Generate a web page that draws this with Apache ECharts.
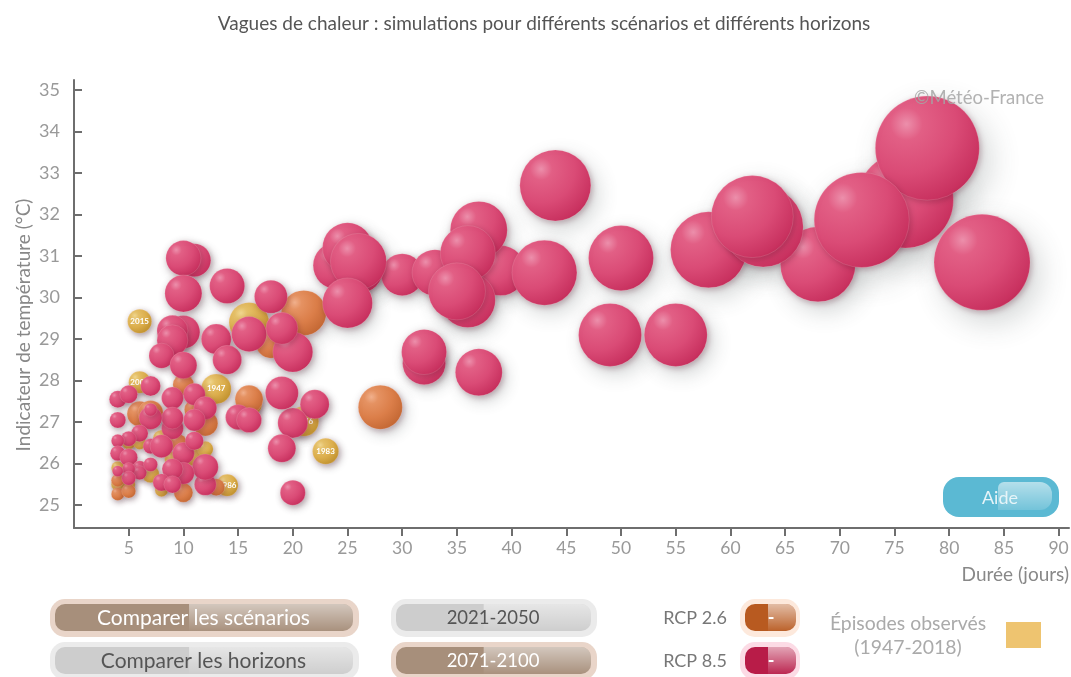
<!DOCTYPE html>
<html>
<head>
<meta charset="utf-8">
<title>Vagues de chaleur</title>
<script src="https://cdn.jsdelivr.net/npm/echarts@6/dist/echarts.min.js"></script>
<style>
  html, body { margin: 0; padding: 0; background: #fff; overflow: hidden; }
  #chartmain { width: 1071px; height: 677px; }
</style>
</head>
<body>
<div id="chartmain"></div>
<script>
var xTicks = [5, 10, 15, 20, 25, 30, 35, 40, 45, 50, 55, 60, 65, 70, 75, 80, 85, 90];
var yTicks = [25, 26, 27, 28, 29, 30, 31, 32, 33, 34, 35];

// [durée en jours, indicateur en °C, sévérité]
var observes = [
  [6, 29.43, 5.8], [16, 29.4, 16], [13, 27.8, 9], [6, 27.96, 4.8], [23, 26.3, 6.8],
  [21, 27.02, 9], [16, 27.45, 6.8], [14, 25.48, 4.8], [4, 25.9, 1.7], [5, 26.5, 1.7],
  [6, 26.5, 1.7], [7, 25.75, 3], [8, 26.6, 3], [8, 25.36, 1.7], [11, 26.15, 3],
  [9, 26.1, 2.5], [5, 25.5, 1.7], [4, 25.5, 1.7], [12, 26.35, 2.5], [10, 25.4, 1.4]
];
var annees = ['2015', '2003', '1947', '2006', '1983', '1976', '', '1986', '', '', '', '', '', '', '', '', '', '', '', ''];

var rcp26 = [
  [21, 29.63, 20.3], [18, 28.9, 9], [28, 27.36, 19.4], [16, 27.55, 7.8], [13, 25.43, 2.9],
  [10, 25.3, 3.6], [10, 27.9, 4.4], [12, 26.97, 6.3], [6, 27.2, 6.3], [7, 27.22, 6.3],
  [11, 27.3, 4], [9.5, 26.5, 3.2], [4, 25.27, 1.7], [5, 25.34, 2], [4, 25.6, 1.7]
];

var rcp85 = [
  [76, 32.35, 92.2], [78, 33.6, 108.2], [68, 30.8, 56.3], [72, 31.87, 90.3], [83, 30.85, 92.2],
  [58, 31.15, 57.8], [63, 31.7, 64], [62, 31.95, 67.2], [50, 30.95, 42.3], [49, 29.1, 39.7],
  [55, 29.1, 39.7], [44, 32.7, 50.4], [39, 30.65, 25], [37, 31.63, 32.5], [36, 29.94, 30.3],
  [30, 30.55, 17.6], [33, 30.6, 21.2], [36, 31.07, 30.3], [35, 30.15, 32.5], [43, 30.6, 42.3],
  [26, 30.7, 25], [24, 30.77, 22], [25, 31.2, 25], [26, 30.87, 31.4], [25, 29.87, 25],
  [32, 28.42, 18.5], [32, 28.69, 20.3], [37, 28.2, 22], [10, 29.17, 10.9], [9, 29.2, 9.6],
  [9, 28.97, 9.6], [11, 30.9, 10.9], [10, 30.95, 12.3], [10, 30.1, 13.7], [14, 30.28, 12.3],
  [18, 30.02, 10.9], [8, 28.6, 6.3], [10, 28.37, 7.3], [13, 29, 9], [14, 28.5, 8.4],
  [20, 28.69, 16], [16, 29.12, 12.3], [19, 29.26, 10.2], [22, 27.43, 8.4], [20, 26.98, 9],
  [19, 27.7, 10.9], [19, 26.37, 7.8], [20, 25.3, 6.3], [15, 27.12, 6.3], [16, 27.05, 6.3],
  [12, 25.5, 4.8], [12, 25.92, 6.8], [4, 27.55, 2.9], [5, 27.67, 3.2], [7, 27.87, 4],
  [4, 27.05, 2.6], [9, 27.58, 4.8], [11, 27.67, 4.8], [12, 27.34, 5.3], [9, 26.85, 4.8],
  [9, 27.1, 4.8], [11, 27.05, 4.8], [7, 27.1, 5.3], [7, 27.3, 1.7], [6, 26.73, 2.9],
  [5, 26.6, 2.3], [4, 26.55, 1.7], [4, 26.25, 2.3], [5, 26.15, 3.2], [7, 26.42, 2.3],
  [8, 26.42, 5.3], [10, 26.25, 4.8], [11, 26.55, 3.4], [10, 25.77, 4.8], [9, 25.87, 4.4],
  [8, 25.55, 3], [9, 25.5, 3], [6, 25.9, 2], [6, 25.78, 2], [7, 25.98, 2],
  [5, 25.87, 1.7], [5, 25.65, 2], [4, 25.82, 1.2]
];

var boutons = [
  { texte: 'Comparer les scénarios', actif: true, taille: 21 },
  { texte: 'Comparer les horizons', actif: false, taille: 21 },
  { texte: '2021-2050', actif: false, taille: 18.5 },
  { texte: '2071-2100', actif: true, taille: 18.5 }
];

var police = 'Lato, "Open Sans", sans-serif';

function diametre(severite) {
  return 10 * Math.sqrt(severite);
}

function sphere(c0, c1, c2, c3, c4) {
  return {
    type: 'radial', x: 0.3, y: 0.27, r: 0.86,
    colorStops: [
      { offset: 0, color: c0 },
      { offset: 0.18, color: c1 },
      { offset: 0.55, color: c2 },
      { offset: 0.88, color: c3 },
      { offset: 1, color: c4 }
    ]
  };
}

function serie(nom, points, couleur, rang, etiquettes) {
  return {
    name: nom,
    type: 'scatter',
    z: rang,
    symbolSize: function (val) { return diametre(val[2]); },
    itemStyle: {
      color: couleur,
      opacity: 1,
      borderColor: 'rgba(255,225,230,0.3)',
      borderWidth: 0.5,
      shadowColor: 'rgba(90,20,45,0.3)',
      shadowBlur: 6,
      shadowOffsetX: 1.5,
      shadowOffsetY: 2
    },
    data: points.map(function (p, i) {
      return { name: etiquettes ? etiquettes[i] : '', value: p };
    }),
    label: {
      show: !!etiquettes,
      position: 'inside',
      formatter: '{b}',
      color: '#fff',
      fontSize: 8,
      fontWeight: 'bold',
      fontFamily: police
    }
  };
}

// ombres portées, sous toutes les bulles pour ne pas salir les voisines
function ombres() {
  return {
    name: 'ombres',
    type: 'scatter',
    z: 1,
    silent: true,
    symbolSize: function (val) { return diametre(val[2]); },
    data: observes.concat(rcp26, rcp85).map(function (p) {
      var d = diametre(p[2]);
      return {
        value: p,
        itemStyle: {
          color: '#fff',
          opacity: 1,
          shadowColor: 'rgba(60,70,70,0.24)',
          shadowBlur: Math.max(6, d * 0.32),
          shadowOffsetX: d * 0.09,
          shadowOffsetY: d * 0.12
        }
      };
    })
  };
}

function bouton(b, x, y, w) {
  var fond = b.actif ? '#a78f7b' : '#cdcdcd';
  var halo = b.actif ? '#e9d5c9' : '#ebebeb';
  return {
    type: 'group',
    children: [
      { type: 'rect', shape: { x: x, y: y, width: w, height: 38, r: 15 }, style: { fill: halo } },
      { type: 'rect', shape: { x: x + 5, y: y + 5, width: w - 11, height: 27, r: 10 }, style: { fill: fond } },
      {
        type: 'rect',
        shape: { x: x + w * 0.45, y: y + 5, width: w * 0.55 - 6, height: 27, r: [0, 10, 10, 0] },
        style: {
          fill: {
            type: 'linear', x: 0, y: 0, x2: 0, y2: 1,
            colorStops: [
              { offset: 0, color: 'rgba(255,255,255,0.5)' },
              { offset: 1, color: 'rgba(255,255,255,0.02)' }
            ]
          }
        }
      },
      {
        type: 'text', x: x + w / 2 - 1, y: y + 19,
        style: {
          text: b.texte, fill: b.actif ? '#fff' : '#555',
          font: b.taille + 'px ' + police, textAlign: 'center', textVerticalAlign: 'middle'
        }
      }
    ]
  };
}

function pastille(y, halo, fond) {
  return {
    type: 'group',
    children: [
      { type: 'rect', shape: { x: 740, y: y, width: 60, height: 38, r: 15 }, style: { fill: halo } },
      { type: 'rect', shape: { x: 745, y: y + 5, width: 51, height: 27, r: 10 }, style: { fill: fond } },
      {
        type: 'rect',
        shape: { x: 768, y: y + 5, width: 28, height: 27, r: [0, 10, 10, 0] },
        style: {
          fill: {
            type: 'linear', x: 0, y: 0, x2: 0, y2: 1,
            colorStops: [
              { offset: 0, color: 'rgba(255,255,255,0.6)' },
              { offset: 1, color: 'rgba(255,255,255,0.05)' }
            ]
          }
        }
      },
      {
        type: 'text', x: 771, y: y + 19,
        style: { text: '-', fill: '#fff', font: 'bold 18px ' + police, textAlign: 'center', textVerticalAlign: 'middle' }
      }
    ]
  };
}

function texte(t, x, y, taille, couleur, align) {
  return {
    type: 'text', x: x, y: y, z: 50,
    style: { text: t, fill: couleur, font: taille + 'px ' + police, textAlign: align || 'center', textVerticalAlign: 'middle' }
  };
}

var myChart = echarts.init(document.getElementById('chartmain'));
myChart.setOption({
  animation: false,
  backgroundColor: '#fff',
  title: {
    text: 'Vagues de chaleur : simulations pour différents scénarios et différents horizons',
    left: 539,
    top: 9,
    textAlign: 'center',
    textStyle: { color: '#555', fontWeight: 'normal', fontSize: 19, fontFamily: police }
  },
  grid: { left: 74, right: 2, top: 80, bottom: 149, outerBoundsMode: 'none' },
  xAxis: {
    type: 'value',
    min: 0,
    max: 90.95,
    name: 'Durée (jours)',
    nameLocation: 'end',
    nameGap: 0,
    nameTextStyle: { color: '#888', fontSize: 19, fontFamily: police, align: 'right', verticalAlign: 'top', padding: [37, 0, 0, 0] },
    axisLine: { onZero: false, lineStyle: { color: '#6e6e6e', width: 2 } },
    axisTick: { length: 8, customValues: xTicks, lineStyle: { color: '#6e6e6e', width: 2 } },
    axisLabel: { customValues: xTicks, color: '#999', fontSize: 17.5, margin: 11, fontFamily: police },
    splitLine: { show: false }
  },
  yAxis: {
    type: 'value',
    min: 24.45,
    max: 35.24,
    name: 'Indicateur de température (°C)',
    nameLocation: 'middle',
    nameGap: 41,
    nameMoveOverlap: false,
    nameTextStyle: { color: '#888', fontSize: 19, fontFamily: police, padding: [0, 42, 0, 0] },
    axisLine: { onZero: false, lineStyle: { color: '#6e6e6e', width: 2 } },
    axisTick: { inside: true, length: 8, customValues: yTicks, lineStyle: { color: '#6e6e6e', width: 2 } },
    axisLabel: { customValues: yTicks, color: '#999', fontSize: 18, margin: 14, fontFamily: police },
    splitLine: { show: false }
  },
  series: [
    ombres(),
    serie('Épisodes observés', observes, sphere('#f0d68f', '#e5c068', '#dcae4c', '#c39431', '#b98c2e'), 2, annees),
    serie('RCP 2.6', rcp26, sphere('#f1b08c', '#e59262', '#db7e49', '#c66a36', '#bd6534'), 3),
    serie('RCP 8.5', rcp85, sphere('#ec8fab', '#e25f85', '#da4b76', '#c93260', '#bb2652'), 4)
  ],
  graphic: [
    texte('©Météo-France', 1044, 98, 18.5, 'rgba(165,165,165,0.85)', 'right'),
    {
      type: 'group',
      children: [
        { type: 'rect', shape: { x: 943, y: 477, width: 116, height: 40, r: 16 }, style: { fill: '#5bb9d3' } },
        {
          type: 'rect',
          shape: { x: 998, y: 482, width: 54, height: 28, r: [6, 12, 12, 0] },
          style: {
            fill: {
              type: 'linear', x: 0, y: 0, x2: 0, y2: 1,
              colorStops: [
                { offset: 0, color: 'rgba(255,255,255,0.55)' },
                { offset: 1, color: 'rgba(255,255,255,0.15)' }
              ]
            }
          }
        }
      ]
    },
    texte('Aide', 1000, 498, 18, '#e6f4f8'),
    bouton(boutons[0], 50, 599, 309),
    bouton(boutons[1], 50, 642, 309),
    bouton(boutons[2], 391, 599, 206),
    bouton(boutons[3], 391, 642, 206),
    texte('RCP 2.6', 695, 618, 18, '#777'),
    texte('RCP 8.5', 695, 661, 18, '#777'),
    pastille(599, '#fde9dc', '#b85a20'),
    pastille(642, '#fcdbe5', '#b81c48'),
    texte('Épisodes observés', 908, 624, 19.4, '#aaa'),
    texte('(1947-2018)', 908, 648, 19.4, '#aaa'),
    { type: 'rect', shape: { x: 1006, y: 622, width: 35, height: 26 }, style: { fill: '#eec470' } }
  ]
});
</script>
</body>
</html>
